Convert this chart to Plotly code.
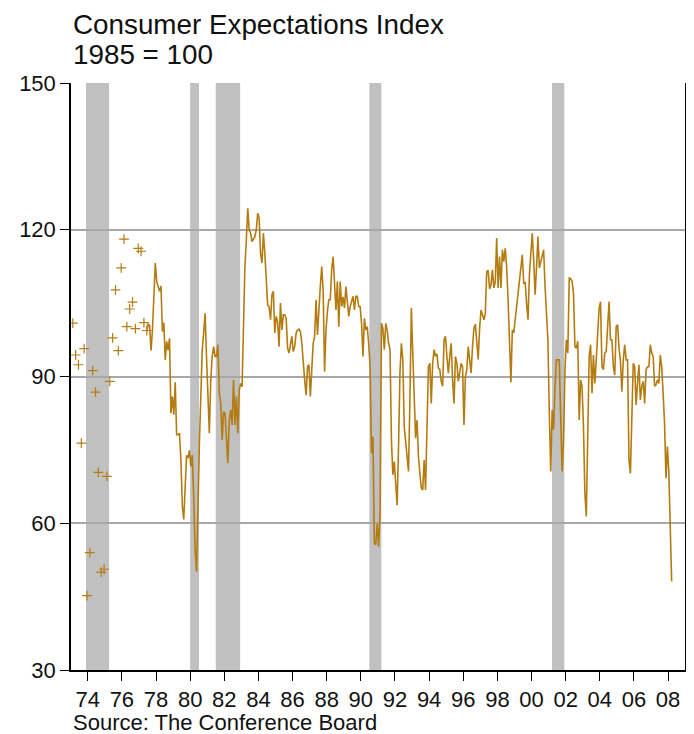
import plotly.graph_objects as go

# ---------------- text ----------------
title_line1 = "Consumer Expectations Index"
title_line2 = "1985 = 100"
source_text = "Source: The Conference Board"

# ---------------- data ----------------
# bimonthly survey (Feb 1973 - Jun 1977), shown as "+" markers
bimonthly_start = (1973, 2)
bimonthly_values = [100.9, 94.4, 92.4, 76.4, 95.7, 45.2, 54.0, 91.2, 86.8, 70.4,
                    50.0, 50.6, 69.6, 89.0, 97.9, 107.7, 95.3, 112.2, 118.1, 100.2,
                    103.8, 105.2, 99.8, 116.2, 115.6, 101.0, 99.4]

# monthly survey (Jun 1977 - Mar 2008), shown as a line
monthly_start = (1977, 6)
monthly_1977_1989 = [
    99.2, 100.8, 100.4, 95.3, 99.5, 105.7, 113.2,
    109.4, 108.1, 107.4, 108.5, 99.2, 101.0, 93.4, 97.2, 95.4, 97.8, 82.5, 85.9,
    82.2, 88.8, 78.1, 78.1, 78.4, 73.0, 63.5, 60.8, 66.8, 73.9, 73.3, 74.9,
    71.6, 74.0, 65.5, 54.5, 50.1, 64.8, 76.4, 85.9, 95.4, 98.9, 102.9, 94.1,
    85.2, 78.4, 89.3, 94.1, 96.1, 94.1, 94.1, 96.5, 86.6, 84.5, 77.0, 82.8,
    82.5, 78.4, 72.3, 81.1, 83.2, 80.1, 89.3, 80.1, 85.9, 78.4, 87.3, 88.6,
    87.9, 100.2, 112.5, 117.9, 124.4, 120.0, 119.3, 117.6, 118.0, 118.6, 120.0, 123.4,
    122.4, 115.0, 113.2, 119.3, 115.2, 109.8, 104.6, 104.3, 101.6, 106.7, 107.4, 98.9,
    102.3, 101.2, 96.1, 105.0, 99.5, 102.6, 102.6, 101.9, 95.8, 94.8, 96.8, 98.2,
    95.1, 96.1, 98.9, 99.5, 99.7, 99.2, 96.8, 92.0, 89.3, 86.2, 92.0, 92.4,
    85.9, 91.4, 96.8, 98.2, 105.7, 98.5, 104.3, 108.4, 112.5, 107.7, 91.0, 99.5,
    103.3, 105.7, 105.7, 111.8, 114.5, 109.8, 103.6, 109.4, 100.2, 109.4, 104.3, 106.3,
    104.0, 108.4, 105.0, 102.3, 104.3, 105.7, 106.4, 103.6, 106.4, 106.4, 104.3, 104.3,
]
monthly_1990_1999 = [
    100.9, 94.1, 101.9, 99.5, 100.2, 96.8, 92.0, 74.3, 77.7, 55.9, 55.6, 60.0,
    55.2, 62.0, 100.9, 99.9, 95.5, 100.9, 99.5, 96.8, 95.5, 77.0, 69.9, 72.6,
    67.5, 63.7, 75.7, 90.7, 96.8, 93.4, 79.8, 77.0, 73.6, 70.6, 85.2, 104.0,
    94.8, 85.2, 77.4, 81.1, 73.6, 70.2, 67.2, 66.8, 72.9, 66.8, 83.9, 92.0,
    92.7, 84.5, 92.7, 95.5, 94.1, 94.6, 91.7, 91.4, 89.0, 88.0, 97.5, 98.2,
    94.1, 90.7, 94.1, 96.8, 89.3, 84.5, 94.1, 92.7, 89.0, 90.7, 92.7, 92.0,
    80.1, 90.0, 91.4, 96.1, 93.4, 90.7, 96.1, 99.9, 100.7, 97.0, 93.5, 99.9,
    103.6, 102.6, 101.6, 102.9, 111.5, 111.7, 107.9, 108.7, 111.8, 108.1, 109.4, 118.3,
    108.1, 114.5, 108.1, 115.9, 113.5, 116.2, 112.5, 105.7, 96.8, 88.8, 99.5, 98.9,
    101.6, 104.3, 107.4, 110.8, 112.2, 114.9, 109.1, 109.2, 105.0, 101.6, 110.8, 114.9,
]
monthly_2000_2008 = [
    119.3, 113.9, 106.7, 112.2, 118.6, 112.2, 113.5, 114.2, 115.9, 108.4, 103.6, 97.5,
    82.5, 70.6, 83.2, 79.1, 87.9, 93.4, 93.4, 93.4, 81.8, 70.6, 77.0, 91.4,
    97.5, 94.8, 110.1, 110.0, 109.4, 107.0, 96.1, 95.8, 97.2, 81.1, 89.3, 88.0,
    79.8, 66.1, 61.4, 75.7, 94.1, 96.5, 86.6, 94.4, 88.6, 93.4, 100.2, 104.0,
    105.3, 92.0, 91.4, 94.8, 95.1, 100.9, 105.3, 97.5, 97.5, 92.0, 90.3, 100.2,
    100.6, 95.8, 93.1, 86.9, 93.4, 96.5, 93.4, 93.4, 73.0, 70.2, 84.5, 92.7,
    92.0, 84.2, 88.6, 92.4, 85.2, 88.0, 89.0, 84.5, 91.4, 92.0, 92.0, 96.5,
    94.8, 94.1, 88.0, 88.3, 89.3, 88.6, 94.4, 92.0, 86.6, 80.5, 69.2, 75.7,
    70.5, 59.3, 48.1,
]

# recessions (decimal years)
recession_start = [1973.90, 1980.00, 1981.50, 1990.50, 2001.20]
recession_end = [1975.25, 1980.52, 1982.93, 1991.20, 2001.92]

x_tick_years = list(range(1974, 2009, 2))
x_tick_labels = [f"{y % 100:02d}" for y in x_tick_years]
y_tick_values = [30, 60, 90, 120, 150]


def month_positions(start, n, step):
    y0, m0 = start
    out = []
    for i in range(n):
        k = (m0 - 1) + i * step
        y = y0 + k // 12
        m = k % 12 + 1
        out.append(y + (m - 0.5) / 12)
    return out


monthly_values = monthly_1977_1989 + monthly_1990_1999 + monthly_2000_2008
x_bi = month_positions(bimonthly_start, len(bimonthly_values), 2)
x_mo = month_positions(monthly_start, len(monthly_values), 1)

LINE_COLOR = "#B47C10"
FONT = "Liberation Sans, Arial, sans-serif"
TEXT_COLOR = "#111111"

fig = go.Figure()
fig.add_trace(go.Scatter(
    x=x_bi, y=bimonthly_values, mode="markers",
    marker=dict(symbol="cross-thin", size=7, color=LINE_COLOR,
                line=dict(width=1.2, color=LINE_COLOR)),
    showlegend=False, hoverinfo="x+y"))
fig.add_trace(go.Scatter(
    x=x_mo, y=monthly_values, mode="lines",
    line=dict(color=LINE_COLOR, width=1.6),
    showlegend=False, hoverinfo="x+y"))

for s, e in zip(recession_start, recession_end):
    fig.add_shape(type="rect", xref="x", yref="paper", x0=s, x1=e, y0=0, y1=1,
                  fillcolor="#C0C0C0", line=dict(width=0), layer="below")

# page body has an 8px margin: the figure starts at (8, 8) in the window
# plot area in the window: x 71..687, y 83..670
H_PLOT = 670 - 83
fig.add_annotation(text=title_line1, xref="paper", yref="paper", x=0,
                   y=(670 - 24) / H_PLOT, xanchor="left", yanchor="middle",
                   showarrow=False, font=dict(size=27.8, family=FONT, color=TEXT_COLOR))
fig.add_annotation(text=title_line2, xref="paper", yref="paper", x=0,
                   y=(670 - 54) / H_PLOT, xanchor="left", yanchor="middle",
                   showarrow=False, font=dict(size=27.8, family=FONT, color=TEXT_COLOR))
fig.add_annotation(text=source_text, xref="paper", yref="paper", x=0,
                   y=(670 - 722) / H_PLOT, xanchor="left", yanchor="middle",
                   showarrow=False, font=dict(size=22, family=FONT, color=TEXT_COLOR))

fig.update_layout(
    width=686, height=726,
    margin=dict(l=63, r=7, t=75, b=64),
    paper_bgcolor="white", plot_bgcolor="white",
    font=dict(family=FONT, color=TEXT_COLOR, size=22),
    showlegend=False,
    xaxis=dict(range=[1973.02, 2008.99], tickvals=x_tick_years, ticktext=x_tick_labels,
               showgrid=False, zeroline=False, showline=True, linecolor="black",
               linewidth=1.5, ticks="outside", ticklen=9, tickwidth=1.3,
               tickcolor="black", tickfont=dict(size=22, family=FONT, color=TEXT_COLOR)),
    yaxis=dict(range=[30, 150], tickvals=y_tick_values, showgrid=True,
               gridcolor="#A8A8A8", gridwidth=1.6, zeroline=False, showline=True,
               mirror=True, linecolor="black", linewidth=1.5, ticks="outside",
               ticklen=9, tickwidth=1.3, tickcolor="black",
               tickfont=dict(size=22, family=FONT, color=TEXT_COLOR)),
)

fig.write_html("out.html")
